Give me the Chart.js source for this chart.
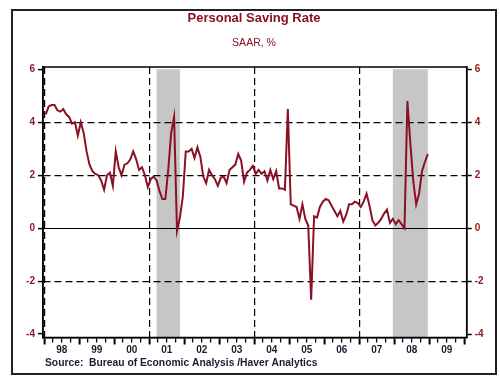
<!DOCTYPE html>
<html><head><meta charset="utf-8">
<script src="https://cdn.jsdelivr.net/npm/chart.js@4"></script>
<style>html,body{margin:0;padding:0;background:#fff}</style>
</head><body>
<canvas id="c" width="500" height="379"></canvas>
<script>
// ---- data (monthly personal saving rate, SAAR %, Jan 1998 - Dec 2008) ----
const startYear = 1998;
const rate1998 = [4.3, 4.6, 4.65, 4.65, 4.45, 4.4, 4.5, 4.3, 4.2, 3.95, 4.0, 3.5];
const rate1999 = [4.0, 3.6, 2.9, 2.4, 2.15, 2.05, 2.0, 1.8, 1.45, 2.0, 2.1, 1.6];
const rate2000 = [2.9, 2.3, 2.0, 2.4, 2.45, 2.6, 2.9, 2.6, 2.2, 2.3, 2.0, 1.55];
const rate2001 = [1.85, 1.95, 1.8, 1.4, 1.1, 1.1, 2.2, 3.6, 4.2, -0.1, 0.4, 1.2];
const rate2002 = [2.9, 2.9, 3.0, 2.65, 3.05, 2.7, 1.95, 1.7, 2.2, 2.0, 1.85, 1.6];
const rate2003 = [1.9, 1.95, 1.7, 2.2, 2.3, 2.4, 2.8, 2.55, 1.75, 2.1, 2.2, 2.35];
const rate2004 = [2.05, 2.2, 2.05, 2.15, 1.8, 2.2, 1.85, 2.15, 1.5, 1.5, 1.45, 4.5];
const rate2005 = [0.9, 0.85, 0.8, 0.35, 0.9, 0.35, 0.1, -2.7, 0.45, 0.4, 0.8, 1.0];
const rate2006 = [1.1, 1.05, 0.85, 0.65, 0.45, 0.65, 0.25, 0.5, 0.9, 0.9, 1.0, 0.95];
const rate2007 = [0.8, 1.0, 1.3, 0.85, 0.3, 0.1, 0.2, 0.35, 0.55, 0.7, 0.2, 0.35];
const rate2008 = [0.15, 0.3, 0.15, 0.0, 4.8, 3.2, 1.8, 0.9, 1.3, 2.15, 2.5, 2.8];
const yearlyRates = [rate1998, rate1999, rate2000, rate2001, rate2002, rate2003,
                     rate2004, rate2005, rate2006, rate2007, rate2008];

// recessions (year, month 1-12)
const recessionStart = [[2001, 3], [2007, 12]];
const recessionEnd   = [[2001, 11], [2008, 12]];

const yTickValues = [-4, -2, 0, 2, 4, 6];
const yDashedLines = [-2, 2, 4];
const yZeroLine = 0;
const xTickLabels = ['98','99','00','01','02','03','04','05','06','07','08','09'];
const xGridYears = [1998, 2001, 2004, 2007];
const firstYear = 1998, lastYear = 2010;

const titleText = 'Personal Saving Rate';
const subtitleText = 'SAAR, %';
const sourceText = 'Source:  Bureau of Economic Analysis /Haver Analytics';

// ---- build points ----
const points = [];
yearlyRates.forEach((arr, yi) => {
  arr.forEach((v, mi) => points.push({ x: startYear + yi + (mi + 0.5) / 12, y: v }));
});
const monthPos = ([y, m]) => y + (m - 0.5) / 12;

const quarterTicks = [];
for (let t = firstYear; t <= lastYear + 1e-9; t += 0.25) quarterTicks.push(+t.toFixed(2));

const RED = '#8c1023';
const LABEL_RED = '#8b1a1a';
const DARK = '#1c1c30';
const FONT = "'Liberation Sans', Arial, sans-serif";

const X_MIN = 1997.963, X_MAX = 2010.069;
const Y_MIN = -4.13, Y_MAX = 6.087;

const framePlugin = {
  id: 'frame',
  beforeDraw(chart) {
    const { ctx, chartArea: a, scales: { x, y } } = chart;
    ctx.save();
    ctx.fillStyle = '#fff';
    ctx.fillRect(0, 0, chart.width, chart.height);
    // recession shading
    ctx.fillStyle = '#c6c6c6';
    recessionStart.forEach((s, i) => {
      const x0 = x.getPixelForValue(monthPos(s));
      const x1 = x.getPixelForValue(monthPos(recessionEnd[i]));
      const y0 = y.getPixelForValue(6);
      ctx.fillRect(x0, y0, x1 - x0, a.bottom - y0);
    });
    ctx.restore();
  },
  afterDraw(chart) {
    const { ctx, chartArea: a } = chart;
    ctx.save();
    ctx.strokeStyle = '#000';
    ctx.lineWidth = 1.5;
    ctx.strokeRect(a.left, a.top, a.right - a.left, a.bottom - a.top);
    ctx.strokeStyle = '#222';
    ctx.lineWidth = 2;
    ctx.strokeRect(12, 10, 484, 364);
    ctx.textAlign = 'center';
    ctx.textBaseline = 'middle';
    ctx.fillStyle = RED;
    ctx.font = 'bold 13px ' + FONT;
    ctx.fillText(titleText, 254, 18.5);
    ctx.font = '10.5px ' + FONT;
    ctx.fillText(subtitleText, 254, 43.5);
    ctx.textAlign = 'left';
    ctx.fillStyle = DARK;
    ctx.font = 'bold 10.3px ' + FONT;
    ctx.fillText(sourceText, 45, 363.5);
    ctx.restore();
  }
};

new Chart(document.getElementById('c'), {
  type: 'line',
  data: {
    datasets: [{
      data: points,
      borderColor: RED,
      borderWidth: 2,
      pointRadius: 0,
      tension: 0,
      fill: false,
      xAxisID: 'x',
      yAxisID: 'y'
    }]
  },
  options: {
    responsive: false,
    animation: false,
    devicePixelRatio: 1,
    layout: { padding: { top: 67, left: 0, right: 0, bottom: 0 } },
    plugins: { legend: { display: false }, tooltip: { enabled: false }, title: { display: false } },
    scales: {
      x: {
        type: 'linear', position: 'bottom', min: X_MIN, max: X_MAX,
        afterBuildTicks: s => { s.ticks = quarterTicks.map(v => ({ value: v })); },
        afterFit: s => { s.height = 379 - 337.5; },
        ticks: {
          autoSkip: false, maxRotation: 0, minRotation: 0, padding: 0,
          color: DARK, font: { family: FONT, size: 10, weight: 'bold' },
          callback: v => {
            const f = v - Math.floor(v);
            if (Math.abs(f - 0.5) < 1e-6) return xTickLabels[Math.floor(v) - firstYear] || '';
            return '';
          }
        },
        grid: {
          color: c => (c.tick && xGridYears.some(yv => Math.abs(c.tick.value - yv) < 1e-6)) ? '#000' : 'rgba(0,0,0,0)',
          lineWidth: 1.2,
          tickLength: 7,
          tickColor: '#000',
          tickWidth: c => (c.tick && Math.abs(c.tick.value - Math.round(c.tick.value)) < 1e-6) ? 2 : 1.3,
          tickBorderDash: c => (c.tick && Math.abs(c.tick.value - Math.round(c.tick.value)) < 1e-6) ? [] : [4, 40]
        },
        border: { display: true, color: '#000', width: 1.5, dash: [7, 4] }
      },
      y: {
        position: 'left', min: Y_MIN, max: Y_MAX,
        afterBuildTicks: s => { s.ticks = yTickValues.map(v => ({ value: v })); },
        afterFit: s => { s.width = 43; },
        ticks: { color: LABEL_RED, font: { family: FONT, size: 10, weight: 'bold' }, padding: 3 },
        grid: {
          color: c => (c.tick && yDashedLines.includes(c.tick.value)) ? '#000' : 'rgba(0,0,0,0)',
          lineWidth: 1.2, tickLength: 5, tickColor: '#000', tickWidth: 1.5
        },
        border: { display: true, color: '#000', width: 1.5, dash: [7, 4] }
      },
      y2: {
        position: 'right', min: Y_MIN, max: Y_MAX,
        afterBuildTicks: s => { s.ticks = yTickValues.map(v => ({ value: v })); },
        afterFit: s => { s.width = 500 - 466.7; },
        ticks: { color: LABEL_RED, font: { family: FONT, size: 10, weight: 'bold' }, padding: 3 },
        grid: {
          color: c => (c.tick && c.tick.value === yZeroLine) ? '#000' : 'rgba(0,0,0,0)',
          lineWidth: 1, tickLength: 5, tickColor: '#000', tickWidth: 1.5
        },
        border: { display: true, color: '#000', width: 1.5 }
      }
    }
  },
  plugins: [framePlugin]
});
</script>
</body></html>
